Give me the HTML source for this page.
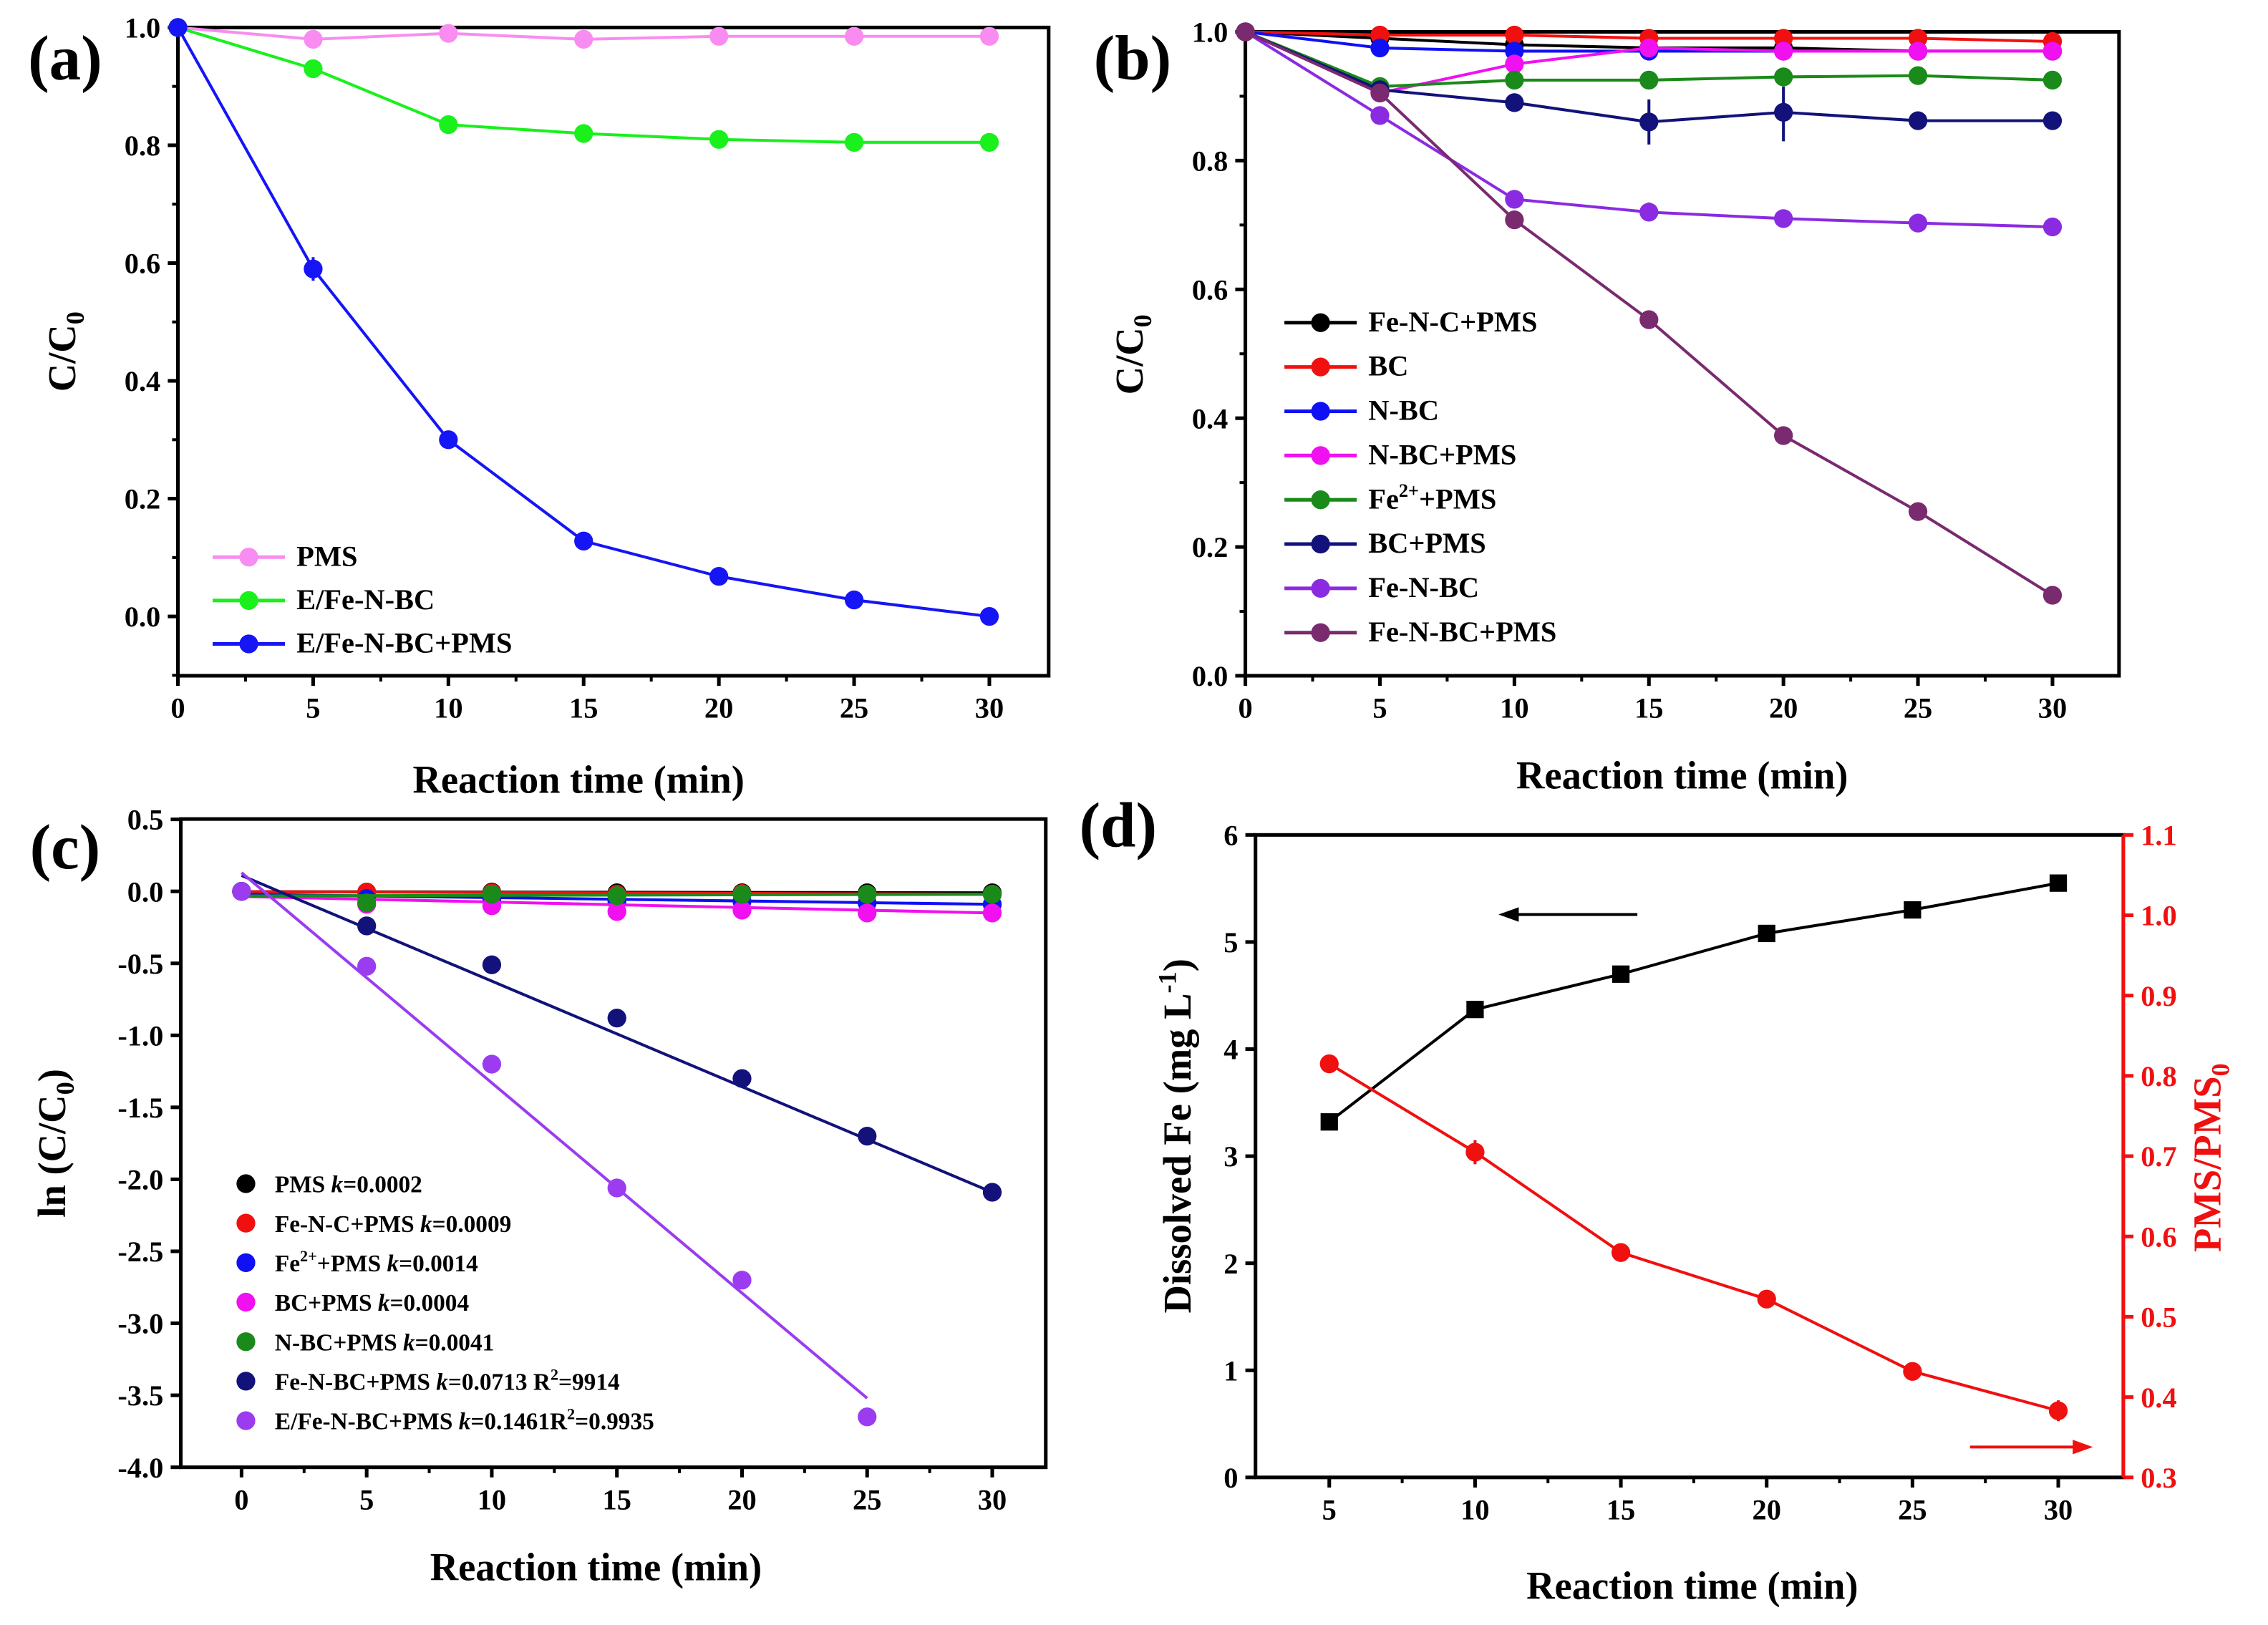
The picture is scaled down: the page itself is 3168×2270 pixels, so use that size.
<!DOCTYPE html>
<html><head><meta charset="utf-8"><style>
html,body{margin:0;padding:0;background:#fff}
svg{display:block}
text{font-family:"Liberation Serif",serif;font-weight:bold}
</style></head><body>
<svg id="fig" width="3168" height="2270" viewBox="0 0 1568 1123" preserveAspectRatio="none" xmlns="http://www.w3.org/2000/svg"></svg>
<script>
// ---- data ----
const timesA=[0,5,10,15,20,25,30];
const aPMS=[1,0.98,0.99,0.98,0.985,0.985,0.985];
const aEFe=[1,0.93,0.835,0.82,0.81,0.805,0.805];
const aEFePMS=[1,0.59,0.30,0.128,0.068,0.028,0.0];
const bFeNC=[1,0.99,0.98,0.975,0.975,0.97,0.97];
const bBC=[1,0.995,0.995,0.99,0.99,0.99,0.985];
const bNBC=[1,0.975,0.97,0.97,0.97,0.97,0.97];
const bNBCPMS=[1,0.905,0.95,0.975,0.97,0.97,0.97];
const bFe2=[1,0.915,0.925,0.925,0.93,0.932,0.925];
const bBCPMS=[1,0.91,0.89,0.86,0.875,0.862,0.862];
const bFeNBC=[1,0.87,0.74,0.72,0.71,0.703,0.697];
const bFeNBCPMS=[1,0.905,0.708,0.553,0.373,0.255,0.125];
const cPMS=[0,-0.005,-0.005,-0.01,-0.01,-0.01,-0.01];
const cFeNC=[0,-0.005,-0.01,-0.02,-0.015,-0.02,-0.02];
const cFe2=[0,-0.05,-0.06,-0.07,-0.07,-0.08,-0.09];
const cBCPMS=[0,-0.09,-0.1,-0.14,-0.13,-0.15,-0.15];
const cNBCPMS=[0,-0.08,-0.02,-0.03,-0.02,-0.02,-0.02];
const cFeNBCPMS=[0,-0.24,-0.51,-0.88,-1.3,-1.7,-2.09];
const cEFePMS=[0,-0.52,-1.2,-2.06,-2.7,-3.65];
const fitFeNBC=[0.11,-2.09];
const fitEFe=[0.13,-3.52];
const timesD=[5,10,15,20,25,30];
const dFe=[3.32,4.37,4.7,5.08,5.3,5.55];
const dPMS=[0.815,0.705,0.58,0.522,0.432,0.383];
const ticksA=[0,0.2,0.4,0.6,0.8,1.0];
const ticksC=[0.5,0,-0.5,-1,-1.5,-2,-2.5,-3,-3.5,-4];
const ticksDL=[0,1,2,3,4,5,6];
const ticksDR=[0.3,0.4,0.5,0.6,0.7,0.8,0.9,1.0,1.1];

const S=document.getElementById('fig');const NS='http://www.w3.org/2000/svg';
function el(t,a,p){const e=document.createElementNS(NS,t);for(const k in a)e.setAttribute(k,a[k]);(p||S).appendChild(e);return e;}
function txt(x,y,s,size,anchor,fill,name,rot){const e=el('text',{x:x,y:y,'font-size':size,'text-anchor':anchor||'middle',fill:fill||'#000'});


if(rot)e.setAttribute('transform','rotate(-90 '+x+' '+y+')');e.innerHTML=s;return e;}
function lin(d0,d1,r0,r1){return v=>r0+(v-d0)/(d1-d0)*(r1-r0);}
function frame(x0,y0,x1,y1,name){const r=el('rect',{x:x0,y:y0,width:x1-x0,height:y1-y0,fill:'none',stroke:'#000','stroke-width':2.5});

}
function xticks(X,vals,y,minor,name){vals.forEach(v=>{el('line',{x1:X(v),x2:X(v),y1:y,y2:y+7,stroke:'#000','stroke-width':2.5});txt(X(v),y+29,v,20,'middle','#000',name);});
minor.forEach(v=>el('line',{x1:X(v),x2:X(v),y1:y,y2:y+4,stroke:'#000','stroke-width':2}));}
function yticks(Y,vals,x,fmt,name,dir,col){dir=dir||-1;vals.forEach(v=>{el('line',{x1:x,x2:x+dir*7,y1:Y(v),y2:Y(v),stroke:col||'#000','stroke-width':2.5});txt(x+dir*12,Y(v)+7,fmt(v),20,dir<0?'end':'start',col||'#000',name);});}
function series(X,Y,xs,ys,col,name,mark,line){const g=el('g',{});


if(line!==false){const pts=xs.map((x,i)=>X(x)+','+Y(ys[i])).join(' ');el('polyline',{points:pts,fill:'none',stroke:col,'stroke-width':2},g);}
xs.forEach((x,i)=>{if(mark==='sq')el('rect',{x:X(x)-6,y:Y(ys[i])-6,width:12,height:12,fill:col},g);else el('circle',{cx:X(x),cy:Y(ys[i]),r:6.5,fill:col},g);});return g;}
function legend(x,y,col,label,size,line,name){const g=el('g',{});


if(line)el('line',{x1:x,x2:x+50,y1:y,y2:y,stroke:col,'stroke-width':2.5},g);el('circle',{cx:x+25,cy:y,r:6.5,fill:col},g);
const t=el('text',{x:x+(line?58:45),y:y+6,'font-size':size},g);t.innerHTML=label;}

// ---- panel a ----
{const X=lin(0,30,123,684),Y=lin(0,1,426,19);
frame(123,19,725,467,'panel-a-frame');
xticks(X,[0,5,10,15,20,25,30],467,[2.5,7.5,12.5,17.5,22.5,27.5],'x-tick-a');
yticks(Y,ticksA,123,v=>v.toFixed(1),'y-tick-a');
[0.1,0.3,0.5,0.7,0.9,-0.1].forEach(v=>el('line',{x1:123,x2:119,y1:Y(v),y2:Y(v),stroke:'#000','stroke-width':2}));
series(X,Y,timesA,aPMS,'#f98cf0','series-pms-a');
series(X,Y,timesA,aEFe,'#19f01c','series-efenbc-a');
series(X,Y,timesA,aEFePMS,'#1515f5','series-efenbc-pms-a');
el('line',{x1:X(5),x2:X(5),y1:Y(0.57),y2:Y(0.61),stroke:'#1515f5','stroke-width':2});
legend(147,385,'#f98cf0','PMS',20,true,'legend-pms-a');
legend(147,415,'#19f01c','E/Fe-N-BC',20,true,'legend-efenbc-a');
legend(147,445,'#1515f5','E/Fe-N-BC+PMS',20,true,'legend-efenbc-pms-a');
txt(400,548,'Reaction time (min)',27,'middle','#000','x-axis-title-a');
txt(52,243,'C/C<tspan font-size="18" dy="6">0</tspan>',27,'middle','#000','y-axis-title-a',true);
txt(45,55,'(a)',44,'middle','#000','panel-label-a');}

// ---- panel b ----
{const X=lin(0,30,861,1419),Y=lin(0,1,467,22);
frame(861,22,1465,467,'panel-b-frame');
xticks(X,[0,5,10,15,20,25,30],467,[2.5,7.5,12.5,17.5,22.5,27.5],'x-tick-b');
yticks(Y,ticksA,861,v=>v.toFixed(1),'y-tick-b');
[0.1,0.3,0.5,0.7,0.9].forEach(v=>el('line',{x1:861,x2:857,y1:Y(v),y2:Y(v),stroke:'#000','stroke-width':2}));
const L=[[bFeNC,'#000','Fe-N-C+PMS'],[bBC,'#f01010','BC'],[bNBC,'#1010f5','N-BC'],[bNBCPMS,'#f010f0','N-BC+PMS'],[bFe2,'#1a8a1a','Fe<tspan font-size="13" dy="-8">2+</tspan><tspan dy="8">+PMS</tspan>'],[bBCPMS,'#12127a','BC+PMS'],[bFeNBC,'#8a2be2','Fe-N-BC'],[bFeNBCPMS,'#7a2a6e','Fe-N-BC+PMS']];
L.forEach((s,i)=>{series(X,Y,timesA,s[0],s[1],'series-b-'+i);legend(888,223+i*30.6,s[1],s[2],20,true,'legend-b-'+i);});
[[15,0.825,0.895,'#12127a'],[20,0.83,0.915,'#12127a'],[15,0.708,0.735,'#8a2be2']].forEach(e=>el('line',{x1:X(e[0]),x2:X(e[0]),y1:Y(e[1]),y2:Y(e[2]),stroke:e[3],'stroke-width':2}));
txt(1163,545,'Reaction time (min)',27,'middle','#000','x-axis-title-b');
txt(790,245,'C/C<tspan font-size="18" dy="6">0</tspan>',27,'middle','#000','y-axis-title-b',true);
txt(783,55,'(b)',44,'middle','#000','panel-label-b');}

// ---- panel c ----
{const X=lin(0,30,167,686),Y=lin(0,-4,616,1014);
frame(125,566,723,1014,'panel-c-frame');
xticks(X,[0,5,10,15,20,25,30],1014,[2.5,7.5,12.5,17.5,22.5,27.5],'x-tick-c');
yticks(Y,ticksC,125,v=>v.toFixed(1),'y-tick-c');
const C=[[cPMS,'#000'],[cFeNC,'#f01010'],[cFe2,'#1010f5'],[cBCPMS,'#f010f0'],[cNBCPMS,'#1a8a1a']];
C.forEach((s,i)=>{el('line',{x1:X(0),x2:X(30),y1:Y(s[0][1]*0.4),y2:Y(s[0][6]),stroke:s[1],'stroke-width':2});series(X,Y,timesA,s[0],s[1],'series-c-'+i,'c',false);});
el('line',{x1:X(0),x2:X(30),y1:Y(fitFeNBC[0]),y2:Y(fitFeNBC[1]),stroke:'#12127a','stroke-width':2});
series(X,Y,timesA,cFeNBCPMS,'#12127a','series-c-fenbc-pms','c',false);
el('line',{x1:X(0),x2:X(25),y1:Y(fitEFe[0]),y2:Y(fitEFe[1]),stroke:'#9b3cf0','stroke-width':2});
series(X,Y,timesA.slice(0,6),cEFePMS,'#9b3cf0','series-c-efenbc-pms','c',false);
const LC=[['#000','PMS <tspan font-style="italic">k</tspan>=0.0002'],['#f01010','Fe-N-C+PMS <tspan font-style="italic">k</tspan>=0.0009'],['#1010f5','Fe<tspan font-size="11" dy="-7">2+</tspan><tspan dy="7">+PMS </tspan><tspan font-style="italic">k</tspan>=0.0014'],['#f010f0','BC+PMS <tspan font-style="italic">k</tspan>=0.0004'],['#1a8a1a','N-BC+PMS <tspan font-style="italic">k</tspan>=0.0041'],['#12127a','Fe-N-BC+PMS <tspan font-style="italic">k</tspan>=0.0713 R<tspan font-size="11" dy="-7">2</tspan><tspan dy="7">=9914</tspan>'],['#9b3cf0','E/Fe-N-BC+PMS <tspan font-style="italic">k</tspan>=0.1461R<tspan font-size="11" dy="-7">2</tspan><tspan dy="7">=0.9935</tspan>']];
LC.forEach((s,i)=>legend(145,818+i*27.3,s[0],s[1],16.5,false,'legend-c-'+i));
txt(412,1092,'Reaction time (min)',27,'middle','#000','x-axis-title-c');
txt(45,790,'ln (C/C<tspan font-size="18" dy="6">0</tspan><tspan dy="-6">)</tspan>',27,'middle','#000','y-axis-title-c',true);
txt(45,600,'(c)',44,'middle','#000','panel-label-c');}

// ---- panel d ----
{const X=lin(5,30,919,1423),Y=lin(0,6,1021,577),Y2=lin(0.3,1.1,1021,577);
frame(868,577,1468,1021,'panel-d-frame');
el('line',{x1:1468,x2:1468,y1:577,y2:1021,stroke:'#f01010','stroke-width':2.5});
xticks(X,[5,10,15,20,25,30],1021,[7.5,12.5,17.5,22.5,27.5],'x-tick-d');
yticks(Y,ticksDL,868,v=>v,'y-tick-d-left');
yticks(Y2,ticksDR,1468,v=>v.toFixed(1),'y-tick-d-right',1,'#f01010');
series(X,Y,timesD,dFe,'#000','series-dissolved-fe','sq');
series(X,Y2,timesD,dPMS,'#f01010','series-pms-ratio');
[[10,0.69,0.72],[25,0.422,0.442],[30,0.37,0.396]].forEach(e=>el('line',{x1:X(e[0]),x2:X(e[0]),y1:Y2(e[1]),y2:Y2(e[2]),stroke:'#f01010','stroke-width':2}));
el('line',{x1:1132,x2:1045,y1:632,y2:632,stroke:'#000','stroke-width':2});el('polygon',{points:'1036,632 1050,627 1050,637',fill:'#000'});
el('line',{x1:1362,x2:1438,y1:1000,y2:1000,stroke:'#f01010','stroke-width':2});el('polygon',{points:'1447,1000 1433,995 1433,1005',fill:'#f01010'});
txt(1170,1105,'Reaction time (min)',27,'middle','#000','x-axis-title-d');
txt(823,785,'Dissolved Fe (mg L<tspan font-size="18" dy="-10">-1</tspan><tspan dy="10">)</tspan>',27,'middle','#000','y-axis-title-d-left',true);
txt(1535,800,'PMS/PMS<tspan font-size="18" dy="6">0</tspan>',27,'middle','#f01010','y-axis-title-d-right',true);
txt(773,585,'(d)',44,'middle','#000','panel-label-d');}
</script>
</body></html>
